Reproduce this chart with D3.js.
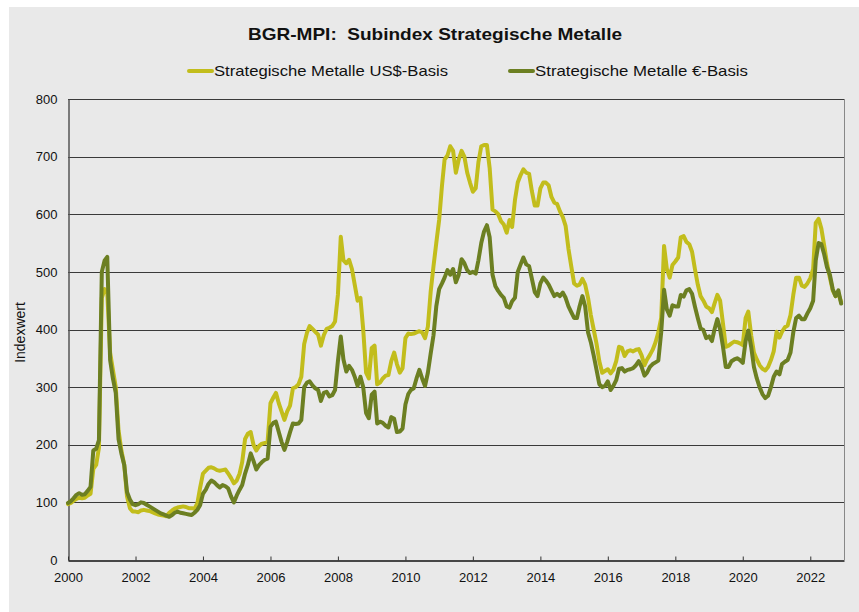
<!DOCTYPE html>
<html>
<head>
<meta charset="utf-8">
<script src="https://cdn.jsdelivr.net/npm/d3@7"></script>
<style>
  html, body { margin: 0; padding: 0; background: #ffffff; }
  svg text { font-family: "Liberation Sans", Arial, sans-serif; fill: #111; }
</style>
</head>
<body>
<svg id="chart" width="859" height="612"></svg>
<script>
// ---------- data ----------
const titleText = "BGR-MPI:  Subindex Strategische Metalle";
const seriesNames = ["Strategische Metalle US$-Basis", "Strategische Metalle \u20AC-Basis"];
const seriesColors = ["#c2bd1c", "#6c7f22"];
const yAxisLabel = "Indexwert";
const startYear = 2000, startMonth = 0;   // monthly values from Jan 2000
const yTicks = [0, 100, 200, 300, 400, 500, 600, 700, 800];
const xTickYears = [2000, 2002, 2004, 2006, 2008, 2010, 2012, 2014, 2016, 2018, 2020, 2022];

// Strategische Metalle US$-Basis (monthly)
const usdValues = [
  97, 99, 103, 106, 108, 107, 108, 112, 115, 158, 165, 195,          // 2000
  455, 470, 465, 360, 330, 300, 225, 190, 165, 110, 90, 84,          // 2001
  84, 83, 86, 87, 86, 85, 83, 81, 79, 78, 77, 76,                    // 2002
  82, 86, 89, 91, 92, 93, 92, 90, 90, 89, 98, 125,                   // 2003
  150, 155, 160, 161, 159, 156, 155, 156, 157, 150, 142, 133,        // 2004
  138, 150, 170, 210, 219, 222, 200, 190, 198, 202, 203, 206,        // 2005
  272, 282, 290, 272, 258, 243, 258, 268, 298, 300, 305, 318,        // 2006
  375, 395, 406, 401, 396, 391, 372, 390, 401, 403, 406, 414,        // 2007
  460, 561, 520, 515, 521, 505, 478, 450, 455, 400, 325, 315,        // 2008
  368, 372, 305, 308, 315, 320, 321, 345, 360, 340, 325, 333,        // 2009
  385, 393, 392, 393, 395, 397, 395, 385, 405, 465, 510, 550,        // 2010
  590, 650, 695, 702, 718, 710, 672, 695, 710, 700, 672, 655,        // 2011
  639, 645, 690, 718, 720, 720, 680, 608, 605, 600, 588, 582,        // 2012
  568, 590, 578, 625, 655, 668, 678, 672, 670, 640, 615, 615,        // 2013
  645, 655, 655, 650, 630, 620, 618, 605, 595, 580, 540, 510,        // 2014
  480, 476, 478, 488, 478, 455, 425, 400, 375, 345, 325, 328,        // 2015
  331, 324, 330, 345, 370, 368, 354, 362, 364, 362, 365, 366,        // 2016
  355, 338, 348, 356, 365, 378, 395, 420, 545, 505, 490, 512,        // 2017
  518, 525, 560, 562, 552, 548, 535, 505, 478, 458, 450, 440,        // 2018
  437, 430, 445, 460, 450, 410, 370, 372, 376, 379, 378, 376,        // 2019
  373, 420, 431, 390, 360, 348, 338, 332, 329, 335, 347, 362,        // 2020
  396, 386, 396, 404, 407, 425, 460, 490, 490, 476, 474, 480,        // 2021
  489, 505, 585, 592, 575, 545, 515, 490, 468, 458, 462, 448         // 2022
];

// Strategische Metalle €-Basis (monthly)
const eurValues = [
  99, 102, 107, 113, 116, 113, 114, 120, 127, 190, 193, 208,         // 2000
  500, 520, 526, 347, 315, 290, 210, 185, 165, 118, 105, 97,         // 2001
  95, 97, 100, 99, 96, 93, 90, 87, 84, 81, 79, 77,                   // 2002
  75, 78, 82, 84, 82, 81, 80, 79, 78, 82, 87, 95,                    // 2003
  115, 122, 132, 138, 135, 130, 126, 130, 128, 124, 110, 100,        // 2004
  112, 122, 130, 150, 165, 185, 172, 157, 165, 170, 174, 176,        // 2005
  231, 238, 240, 222, 205, 191, 205, 222, 237, 236, 237, 243,        // 2006
  300, 308, 310, 303, 298, 295, 276, 290, 292, 284, 286, 295,        // 2007
  345, 388, 348, 327, 337, 330, 318, 302, 318, 300, 255, 246,        // 2008
  287, 292, 237, 240, 238, 233, 230, 248, 245, 222, 223, 228,        // 2009
  270, 288, 295, 298, 315, 330, 315, 302, 325, 358, 390, 440,        // 2010
  470, 480, 490, 503, 495, 505, 482, 495, 522, 515, 503, 498,        // 2011
  500, 497, 520, 550, 570, 581, 560, 495, 475, 467, 460, 455,        // 2012
  440, 438, 449, 455, 500, 513, 525, 513, 510, 488, 465, 458,        // 2013
  480, 490, 485, 478, 468, 458, 462, 458, 464, 455, 440, 430,        // 2014
  420, 420, 440, 458, 440, 395, 378, 355, 330, 305, 300, 302,        // 2015
  310, 295, 302, 312, 332, 333, 327, 330, 331, 333, 338, 345,        // 2016
  335, 320, 325, 335, 340, 343, 346, 395, 469, 435, 424, 442,        // 2017
  440, 440, 460, 457, 468, 470, 462, 440, 420, 402, 399, 385,        // 2018
  388, 380, 400, 418, 400, 370, 335, 335, 345, 348, 350, 347,        // 2019
  342, 380, 398, 370, 335, 315, 300, 288, 281, 285, 300, 318,        // 2020
  327, 322, 340, 344, 347, 360, 395, 420, 424, 418, 418, 428,        // 2021
  437, 450, 520, 550, 548, 530, 508, 495, 470, 458, 468, 445         // 2022
];

// ---------- layout ----------
const W = 859, H = 612;
const plot = { left: 68, right: 844, top: 99, bottom: 560 };

const svg = d3.select("#chart");

// panel background
svg.append("rect").attr("x", 9).attr("y", 7).attr("width", W - 9).attr("height", H - 7)
  .attr("fill", "#e9e9e9");

const dates = usdValues.map((_, i) => new Date(startYear, startMonth + i, 1));

const x = d3.scaleTime()
  .domain([new Date(2000, 0, 1), new Date(2023, 0, 1)])
  .range([plot.left, plot.right]);
const y = d3.scaleLinear().domain([0, 800]).range([plot.bottom, plot.top]);

// gridlines
svg.append("g").selectAll("line").data(yTicks.filter(d => d > 0)).join("line")
  .attr("x1", plot.left).attr("x2", plot.right)
  .attr("y1", d => Math.round(y(d)) + 0.5).attr("y2", d => Math.round(y(d)) + 0.5)
  .attr("stroke", "#3a3a3a").attr("stroke-width", 1);

// right border
svg.append("line")
  .attr("x1", plot.right + 0.5).attr("x2", plot.right + 0.5)
  .attr("y1", plot.top).attr("y2", plot.bottom)
  .attr("stroke", "#888").attr("stroke-width", 1);

// y axis
const yAxis = svg.append("g").attr("transform", `translate(${plot.left + 0.5},0)`)
  .call(d3.axisLeft(y).tickValues(yTicks).tickSize(0).tickPadding(11));
yAxis.select(".domain").attr("stroke", "#555").attr("stroke-width", 1.5);
yAxis.selectAll("text").attr("font-size", 13).attr("fill", "#111")
  .style("font-family", '"Liberation Sans", Arial, sans-serif');

// x axis
const xAxis = svg.append("g").attr("transform", `translate(0,${plot.bottom + 0.5})`)
  .call(d3.axisBottom(x)
    .tickValues(xTickYears.map(yr => new Date(yr, 0, 1)))
    .tickFormat(d3.timeFormat("%Y"))
    .tickSizeInner(-4).tickSizeOuter(0).tickPadding(12));
xAxis.select(".domain").attr("stroke", "#111").attr("stroke-width", 1.5);
xAxis.selectAll(".tick line").attr("stroke", "#333");
xAxis.selectAll("text").attr("font-size", 13).attr("fill", "#111")
  .style("font-family", '"Liberation Sans", Arial, sans-serif');

// y axis label
svg.append("text")
  .attr("transform", `translate(25,${(plot.top + plot.bottom) / 2 + 3}) rotate(-90)`)
  .attr("text-anchor", "middle").attr("font-size", 14)
  .text(yAxisLabel);

// lines
const line = d3.line().x((d, i) => x(dates[i])).y(d => y(d)).curve(d3.curveLinear);
[usdValues, eurValues].forEach((vals, k) => {
  svg.append("path").datum(vals)
    .attr("d", line)
    .attr("fill", "none")
    .attr("stroke", seriesColors[k])
    .attr("stroke-width", 4)
    .attr("stroke-linejoin", "round")
    .attr("stroke-linecap", "round");
});

// title
svg.append("text")
  .attr("x", 435).attr("y", 40)
  .attr("text-anchor", "middle")
  .attr("font-size", 17).attr("font-weight", "bold")
  .attr("xml:space", "preserve")
  .style("white-space", "pre")
  .attr("textLength", 374).attr("lengthAdjust", "spacingAndGlyphs")
  .text(titleText);

// legend
const legendItems = [
  { x: 189, textLen: 234 },
  { x: 510, textLen: 213 }
];
legendItems.forEach((it, k) => {
  const g = svg.append("g");
  g.append("line")
    .attr("x1", it.x).attr("x2", it.x + 23)
    .attr("y1", 71).attr("y2", 71)
    .attr("stroke", seriesColors[k]).attr("stroke-width", 4).attr("stroke-linecap", "round");
  g.append("text")
    .attr("x", it.x + 25).attr("y", 76)
    .attr("font-size", 15)
    .attr("textLength", it.textLen).attr("lengthAdjust", "spacingAndGlyphs")
    .text(seriesNames[k]);
});
</script>
</body>
</html>
